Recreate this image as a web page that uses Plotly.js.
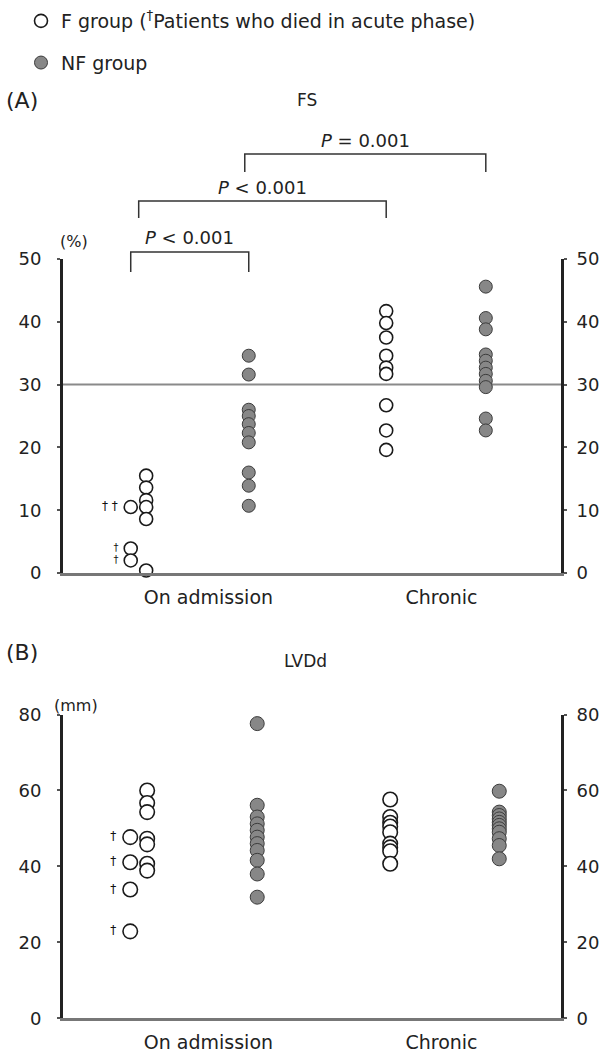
<!DOCTYPE html>
<html><head><meta charset="utf-8">
<script src="https://cdn.plot.ly/plotly-3.0.1.min.js"></script>
<style>html,body{margin:0;padding:0;background:#fff}#chart{width:604px;height:1056px}</style>
</head><body><div id="chart"></div>
<script>
// ---------- data ----------
const categories = ["On admission", "Chronic"];
const yTicksFS = [0, 10, 20, 30, 40, 50];
const yTicksLV = [0, 20, 40, 60, 80];

// (A) FS, %
const fsF_adm      = [15.5, 13.6, 11.6, 10.5, 8.6, 0.4];
const fsF_admDied  = [10.5, 3.9, 2.0];
const fsDiedLabels = ["† †\u00a0", "†\u00a0", "†\u00a0"];
const fsNF_adm     = [34.6, 31.6, 26.0, 25.0, 23.7, 22.3, 20.8, 16.0, 13.9, 10.7];
const fsF_chr      = [41.7, 39.8, 37.5, 34.6, 32.7, 31.7, 26.7, 22.7, 19.6];
const fsNF_chr     = [45.6, 40.6, 38.8, 34.8, 33.8, 32.7, 31.7, 30.6, 29.6, 24.6, 22.7];
const fsRefLine    = 30;
const pLabels      = ["<i>P</i> &lt; 0.001", "<i>P</i> &lt; 0.001", "<i>P</i> = 0.001"];

// (B) LVDd, mm
const lvF_adm      = [60.0, 56.7, 54.3, 47.3, 45.8, 40.7, 38.9];
const lvF_admDied  = [47.7, 41.1, 33.9, 22.9];
const lvDiedLabels = ["†\u00a0", "†\u00a0", "†\u00a0", "†\u00a0"];
const lvNF_adm     = [77.6, 56.1, 53.0, 51.2, 49.5, 47.7, 46.0, 44.2, 41.6, 38.0, 31.9];
const lvF_chr      = [57.6, 53.0, 51.5, 50.5, 49.0, 46.0, 45.0, 44.0, 40.7];
const lvNF_chr     = [59.8, 54.3, 53.4, 52.5, 51.6, 50.8, 49.9, 49.0, 47.3, 45.5, 42.0];

// ---------- layout helpers ----------
const W = 604, H = 1056, L = 63, R = 561;
const py = p => (H - p) / H;           // page pixel y -> paper y
const px = p => (p - L) / (R - L);     // page pixel x -> paper x
const FONT = "DejaVu Sans";
const TXT = "#222";
const catCenter = [2.92, 7.60];
const posA = {Fadm: 1.67, died: 1.36, NFadm: 3.73, Fchr: 6.49, NFchr: 8.49};
const posB = {Fadm: 1.69, died: 1.35, NFadm: 3.90, Fchr: 6.57, NFchr: 8.76};

const openM = s => ({symbol: "circle", size: s, color: "#ffffff", line: {color: "#1a1a1a", width: 1.6}});
const fillM = s => ({symbol: "circle", size: s, color: "#878787", line: {color: "#3c3c3c", width: 1}});
const col = (vals, x) => vals.map(() => x);

function tr(vals, x, marker, xa, ya, extra) {
  return Object.assign({type: "scatter", mode: "markers", x: col(vals, x), y: vals,
    xaxis: xa, yaxis: ya, marker: marker, cliponaxis: false, showlegend: false,
    hoverinfo: "y"}, extra || {});
}

const data = [
  tr(fsF_adm, posA.Fadm, openM(13), "x", "y",
     {name: "F group (<sup>†</sup>Patients who died in acute phase)", showlegend: true, legendgroup: "F"}),
  tr(fsNF_adm, posA.NFadm, fillM(13), "x", "y",
     {name: "NF group", showlegend: true, legendgroup: "NF"}),
  tr(fsF_admDied, posA.died, openM(13), "x", "y",
     {mode: "markers+text", text: fsDiedLabels, textposition: "middle left",
      textfont: {family: FONT, size: [12, 10, 10], color: "#111"}, legendgroup: "F"}),
  tr(fsF_chr, posA.Fchr, openM(13), "x", "y", {legendgroup: "F"}),
  tr(fsNF_chr, posA.NFchr, fillM(13), "x", "y", {legendgroup: "NF"}),

  tr(lvF_adm, posB.Fadm, openM(14.5), "x2", "y2", {legendgroup: "F"}),
  tr(lvF_admDied, posB.died, openM(14.5), "x2", "y2",
     {mode: "markers+text", text: lvDiedLabels, textposition: "middle left",
      textfont: {family: FONT, size: 12, color: "#111"}, legendgroup: "F"}),
  tr(lvNF_adm, posB.NFadm, fillM(14), "x2", "y2", {legendgroup: "NF"}),
  tr(lvF_chr, posB.Fchr, openM(14.5), "x2", "y2", {legendgroup: "F"}),
  tr(lvNF_chr, posB.NFchr, fillM(14), "x2", "y2", {legendgroup: "NF"}),

  // empty traces so the right-hand axes are drawn
  {type: "scatter", mode: "markers", x: [], y: [], xaxis: "x", yaxis: "y3", showlegend: false},
  {type: "scatter", mode: "markers", x: [], y: [], xaxis: "x2", yaxis: "y4", showlegend: false}
];

const tickFont = {family: FONT, size: 18, color: TXT};
function xAx(anchor) {
  return {domain: [0, 1], range: [0, 10], anchor: anchor, tickmode: "array",
    tickvals: catCenter, ticktext: categories, ticks: "", showgrid: false, zeroline: false,
    showline: true, linecolor: "#777", linewidth: 3,
    tickfont: {family: FONT, size: 19, color: TXT},
    ticklabelstandoff: 5, fixedrange: true};
}
function yAx(dom, rng, tv, extra) {
  return Object.assign({domain: dom, range: rng, tickmode: "array", tickvals: tv,
    ticks: "outside", ticklen: 3, tickwidth: 2, tickcolor: "#555",
    showline: true, linecolor: "#222", linewidth: 3, showgrid: false, zeroline: false,
    tickfont: tickFont, ticklabelstandoff: 12, fixedrange: true}, extra || {});
}
const domA = [py(573), py(259)];
const domB = [py(1018.3), py(714.5)];

// significance brackets (page-pixel y levels, x in data units of panel A)
const brackets = [
  {x0: posA.died, x1: posA.NFadm, top: 252, end: 272, ty: 237},
  {x0: 1.52,      x1: posA.Fchr,  top: 201, end: 218, ty: 188},
  {x0: 3.65,      x1: posA.NFchr, top: 154, end: 172, ty: 140}
];

const shapes = [
  {type: "line", xref: "paper", yref: "y", x0: 0, x1: 1, y0: fsRefLine, y1: fsRefLine,
   line: {color: "#8a8a8a", width: 2}, layer: "below"}
];
const annotations = [];
brackets.forEach((b, i) => {
  const a = b.x0 / 10, c = b.x1 / 10;
  shapes.push({type: "path", xref: "paper", yref: "paper",
    path: `M ${a},${py(b.end)} L ${a},${py(b.top)} L ${c},${py(b.top)} L ${c},${py(b.end)}`,
    line: {color: "#333", width: 1.5}});
  annotations.push({xref: "paper", yref: "paper", x: (a + c) / 2, y: py(b.ty),
    text: pLabels[i], showarrow: false, xanchor: "center", yanchor: "middle",
    font: {family: FONT, size: 18, color: TXT}});
});

const ann = (text, x, y, size, xanchor) => ({xref: "paper", yref: "paper", x: px(x), y: py(y),
  text: text, showarrow: false, xanchor: xanchor || "center", yanchor: "middle",
  font: {family: FONT, size: size, color: TXT}});
annotations.push(
  ann("(A)", 4, 100, 22, "left"),
  ann("FS", 307, 100, 17),
  ann("(%)", 74, 241, 16),
  ann("(B)", 4, 652, 22, "left"),
  ann("LVDd", 305, 661, 17),
  ann("(mm)", 76, 705, 16)
);

const layout = {
  width: W, height: H,
  margin: {l: L, r: W - R, t: 0, b: 0, autoexpand: false},
  paper_bgcolor: "#fff", plot_bgcolor: "#fff",
  font: {family: FONT, color: TXT},
  showlegend: true,
  legend: {x: px(21), xanchor: "left", y: py(2), yanchor: "top",
    font: {family: FONT, size: 19, color: TXT}, traceorder: "grouped",
    tracegroupgap: 14, bgcolor: "rgba(0,0,0,0)", borderwidth: 0, itemsizing: "trace"},
  xaxis: xAx("y"),
  yaxis: yAx(domA, [0, 50], yTicksFS, {anchor: "x"}),
  yaxis3: yAx(domA, [0, 50], yTicksFS, {overlaying: "y", side: "right", anchor: "x", ticklabelstandoff: 6}),
  xaxis2: xAx("y2"),
  yaxis2: yAx(domB, [0, 80], yTicksLV, {anchor: "x2"}),
  yaxis4: yAx(domB, [0, 80], yTicksLV, {overlaying: "y2", side: "right", anchor: "x2", ticklabelstandoff: 6}),
  shapes: shapes,
  annotations: annotations
};

Plotly.newPlot("chart", data, layout, {staticPlot: true, displayModeBar: false});
</script>
</body></html>
